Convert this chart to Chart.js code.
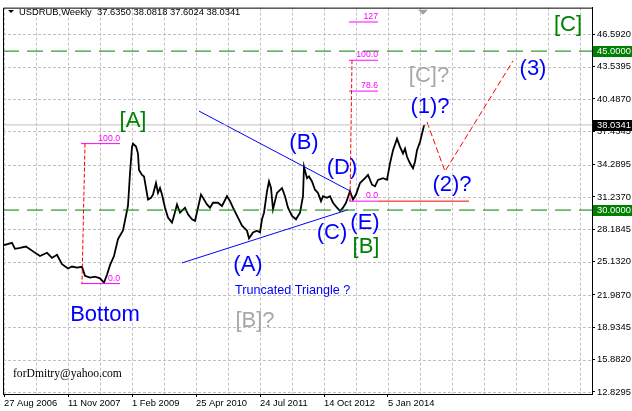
<!DOCTYPE html>
<html>
<head>
<meta charset="utf-8">
<script src="https://cdn.jsdelivr.net/npm/chart.js@4/dist/chart.umd.min.js"></script>
<style>
  html, body { margin: 0; padding: 0; background: #fff; }
  canvas { display: block; }
</style>
</head>
<body>
<canvas id="chart" width="632" height="411"></canvas>
<script>
// --- Data (bar index = weeks since 27 Aug 2006) ---
const barIdx = [0, 8, 11, 16, 22, 29, 36, 43, 48, 53, 58, 64, 68, 73, 78, 81, 86, 91, 96, 100,
  103, 106, 110, 114, 119,
  124, 126, 128, 129, 132, 134, 135, 138, 140, 142, 144, 147, 149, 152, 154, 156, 158, 161, 164, 168,
  170, 173, 176, 181, 184, 188, 191, 194, 197, 199, 203, 206, 209, 214, 218, 223, 226, 229, 234, 238,
  243, 245, 249, 253, 256, 258, 260, 263, 265, 267, 269,
  273, 278, 281, 284, 288, 292, 296, 299, 300, 303, 305, 308, 311, 314, 317, 319, 323, 326, 329, 333,
  336, 339, 342, 346, 349, 352, 356, 361, 364, 368, 371, 374, 379, 383, 386, 389, 393, 396, 399, 401,
  403, 406, 409, 411, 413, 416, 418, 420, 421];
const usdrub = [26.69, 26.90, 26.34, 26.43, 26.56, 26.10, 25.66, 25.97, 25.48, 25.78, 24.89, 24.48, 24.67, 24.57, 24.64, 23.80, 23.62, 23.71, 23.55, 23.15,
  23.89, 24.80, 25.66, 27.27, 28.08,
  30.41, 33.47, 35.96, 36.27, 35.99, 35.33, 33.78, 33.32, 33.17, 32.08, 30.99, 31.15, 31.46, 32.55, 31.62, 32.08, 31.46, 30.22, 29.29, 28.82,
  29.45, 30.53, 29.75, 30.22, 29.60, 29.13, 28.98, 30.22, 31.46, 31.15, 30.53, 30.22, 30.69, 30.69, 30.38, 31.31, 30.84, 30.22, 29.29, 28.52,
  28.05, 27.33, 27.89, 28.05, 27.89, 29.13, 29.75, 31.77, 32.70, 32.08, 30.06,
  31.62, 32.08, 31.31, 30.22, 29.45, 29.13, 29.75, 31.31, 34.10, 33.01, 33.17, 32.70, 31.92, 31.62, 30.84, 31.31, 31.15, 31.31, 30.69, 30.22,
  29.91, 30.22, 30.69, 31.77, 30.99, 31.46, 32.55, 33.01, 33.32, 32.39, 32.24, 32.85, 33.01, 32.85, 34.41, 35.64, 36.73, 35.96, 35.34, 35.80,
  35.03, 34.41, 33.94, 34.56, 35.64, 36.42, 37.20, 37.97, 38.03];

const yTicks = [12.8295, 15.882, 18.9345, 21.987, 25.132, 28.1845, 31.237, 34.2895, 37.4345, 40.487, 43.5395, 46.592];
const xTickBars = [0, 64, 128, 192, 256, 320, 384];
const xTickLabels = ['27 Aug 2006', '11 Nov 2007', '1 Feb 2009', '25 Apr 2010', '24 Jul 2011', '14 Oct 2012', '5 Jan 2014'];

const levelLines = [45, 30];
const bidPrice = 38.0341;
const header = 'USDRUB,Weekly  37.6350 38.0818 37.6024 38.0341';

// triangle boundaries
const triUpperBars = [195, 346];
const triUpperPrices = [39.34, 31.80];
const triLowerBars = [178, 344];
const triLowerPrices = [25.01, 30.03];

// fibonacci 1 (bottom -> [A])
const fib1Bars = [77, 116];
const fib1Prices = [36.27, 23.06];
const fib1Labels = ['100.0', '0.0'];
const fib1TrendBars = [81, 78];

// fibonacci 2 (E -> target)
const fib2Bars = [345, 374];
const fib2Prices = [47.75, 44.14, 41.23, 30.84];
const fib2Labels = ['127', '100.0', '78.6', '0.0'];
const fib2TrendBars = [348, 346];
const fib2TrendPrices = [44.14, 30.84];
const supportBars = [374, 465];

// projected path (1) -> (2) -> (3)
const projBars = [423, 441, 509];
const projPrices = [38.31, 33.66, 44.08];

// wave labels
const waveTexts = ['[A]', '[B]', '[C]', '[C]?', '[B]?', '(A)', '(B)', '(C)', '(D)', '(E)', '(1)?', '(2)?', '(3)', 'Bottom'];
const waveBars = [129, 362, 564, 425, 251, 244, 300, 328, 338, 361, 426, 448, 529, 101];
const wavePrices = [38.41, 26.50, 47.43, 42.69, 19.52, 24.82, 36.36, 27.80, 33.94, 28.82, 39.71, 32.36, 43.34, 20.08];

const noteText = 'Truncated Triangle ?';
const noteBar = 231, notePrice = 22.40;
const emailText = 'forDmitry@yahoo.com';
const emailBar = 9, emailPrice = 14.50;
const shiftBar = 419;

const FONT = '"Liberation Sans", Arial, sans-serif';
const GREEN = '#008000';

function pts(xs, ys) { return xs.map((x, i) => ({ x, y: Array.isArray(ys) ? ys[i] : ys })); }
function seg(data, color, width, dash) {
  return { data, borderColor: color, borderWidth: width, borderDash: dash || [], pointRadius: 0, fill: false, tension: 0 };
}

const datasets = [
  seg(pts([-1, 588], levelLines[0]), GREEN, 1, [16, 8]),
  seg(pts([-1, 588], levelLines[1]), GREEN, 1, [16, 8]),
  seg(pts([-1, 588], bidPrice), '#c0c0c0', 1),
  seg(pts(triUpperBars, triUpperPrices), '#0000ff', 1),
  seg(pts(triLowerBars, triLowerPrices), '#0000ff', 1),
  seg(pts(fib1TrendBars, fib1Prices), '#ff0000', 1, [4, 2]),
  seg(pts(fib2TrendBars, fib2TrendPrices), '#ff0000', 1, [4, 2]),
  seg(pts(supportBars, fib2Prices[3]), '#ff0000', 1),
  seg(pts(projBars, projPrices), '#ff0000', 1, [6, 3]),
];
fib1Prices.forEach(p => datasets.push(seg(pts(fib1Bars, p), '#ff00ff', 1)));
fib2Prices.forEach(p => datasets.push(seg(pts(fib2Bars, p), '#ff00ff', 1)));
datasets.push(seg(pts(barIdx, usdrub), '#000000', 1.8));

// --- Dashed grid from the scales' ticks ---
const dashedGrid = {
  id: 'dashedGrid',
  beforeDatasetsDraw(chart) {
    const { ctx, chartArea: a, scales: { x, y } } = chart;
    ctx.save();
    ctx.strokeStyle = '#c0c0c0';
    ctx.lineWidth = 1;
    ctx.setLineDash([3, 2]);
    ctx.beginPath();
    x.ticks.forEach(t => {
      const px = Math.round(x.getPixelForValue(t.value)) + 0.5;
      if (px <= a.left + 1) return;
      ctx.moveTo(px, a.top); ctx.lineTo(px, a.bottom);
    });
    y.ticks.forEach(t => {
      const py = Math.round(y.getPixelForValue(t.value)) + 0.5;
      ctx.moveTo(a.left, py); ctx.lineTo(a.right, py);
    });
    ctx.stroke();
    ctx.restore();
  }
};

// --- Overlay: frame, value boxes, labels ---
const overlay = {
  id: 'overlay',
  afterDraw(chart) {
    const { ctx, chartArea: a, scales: { x, y } } = chart;
    ctx.save();
    // frame (left + top)
    ctx.strokeStyle = '#000';
    ctx.lineWidth = 1;
    ctx.beginPath();
    ctx.moveTo(a.left + 0.5, a.bottom);
    ctx.lineTo(a.left + 0.5, a.top + 0.5);
    ctx.lineTo(a.right, a.top + 0.5);
    ctx.stroke();

    // header
    ctx.fillStyle = '#000';
    ctx.beginPath();
    ctx.moveTo(8, 10); ctx.lineTo(14, 10); ctx.lineTo(11, 13); ctx.closePath(); ctx.fill();
    ctx.font = '9.4px ' + FONT;
    ctx.textAlign = 'left';
    ctx.textBaseline = 'middle';
    ctx.fillText(header, 19, 12);

    // chart shift marker
    const sx = x.getPixelForValue(shiftBar);
    ctx.fillStyle = '#a0a0a0';
    ctx.beginPath();
    ctx.moveTo(sx - 5, a.top + 2); ctx.lineTo(sx + 5, a.top + 2); ctx.lineTo(sx, a.top + 7); ctx.closePath(); ctx.fill();

    // value boxes on price axis
    const box = (v, bg) => {
      const py = Math.round(y.getPixelForValue(v));
      ctx.fillStyle = bg;
      ctx.fillRect(a.right + 1, py - 5, 40, 11);
      ctx.fillStyle = '#fff';
      ctx.font = '9.4px ' + FONT;
      ctx.textAlign = 'left';
      ctx.textBaseline = 'middle';
      ctx.fillText(v.toFixed(4), a.right + 5, py + 0.5);
    };
    box(levelLines[0], GREEN);
    box(levelLines[1], GREEN);
    box(bidPrice, '#000');

    // fibo level labels
    ctx.fillStyle = '#ff00ff';
    ctx.font = '8.7px ' + FONT;
    ctx.textAlign = 'right';
    ctx.textBaseline = 'bottom';
    fib1Prices.forEach((p, i) => ctx.fillText(fib1Labels[i], x.getPixelForValue(fib1Bars[1]), y.getPixelForValue(p) - 1));
    fib2Prices.forEach((p, i) => ctx.fillText(fib2Labels[i], x.getPixelForValue(fib2Bars[1]), y.getPixelForValue(p) - 1));

    // wave labels
    ctx.font = '22px ' + FONT;
    ctx.textAlign = 'center';
    ctx.textBaseline = 'middle';
    waveTexts.forEach((t, i) => {
      if (/^\[.\]\?$/.test(t)) ctx.fillStyle = '#a8a8a8';
      else if (/^\[.\]$/.test(t)) ctx.fillStyle = GREEN;
      else ctx.fillStyle = '#0000ff';
      ctx.fillText(t, x.getPixelForValue(waveBars[i]), y.getPixelForValue(wavePrices[i]));
    });

    ctx.textAlign = 'left';
    ctx.fillStyle = '#0000ff';
    ctx.font = '12.6px ' + FONT;
    ctx.fillText(noteText, x.getPixelForValue(noteBar), y.getPixelForValue(notePrice));

    ctx.fillStyle = '#000';
    ctx.font = '11.6px "Liberation Serif", "Times New Roman", serif';
    ctx.fillText(emailText, x.getPixelForValue(emailBar), y.getPixelForValue(emailPrice));
    ctx.restore();
  }
};

new Chart(document.getElementById('chart'), {
  type: 'line',
  data: { datasets },
  options: {
    responsive: false,
    animation: false,
    devicePixelRatio: 1,
    layout: { padding: { left: 3, top: 2, right: 0, bottom: 0 } },
    plugins: { legend: { display: false }, tooltip: { enabled: false } },
    scales: {
      x: {
        type: 'linear',
        min: -1,
        max: 588,
        afterFit: s => { s.height = 17; },
        afterBuildTicks: s => {
          const t = [];
          for (let v = 0; v <= 576; v += 32) t.push({ value: v });
          s.ticks = t;
        },
        ticks: {
          autoSkip: false,
          maxRotation: 0,
          align: 'start',
          padding: 1,
          color: '#000',
          font: { family: FONT, size: 9.4 },
          callback: v => {
            const i = xTickBars.indexOf(v);
            return i >= 0 ? xTickLabels[i] : '';
          }
        },
        grid: {
          drawOnChartArea: false,
          tickLength: 3,
          color: c => (c.tick && xTickBars.includes(c.tick.value)) ? '#000' : 'rgba(0,0,0,0)'
        },
        border: { color: '#000', width: 1 }
      },
      y: {
        type: 'linear',
        position: 'right',
        min: 12.639,
        max: 49.104,
        afterFit: s => { s.width = 40; },
        afterBuildTicks: s => { s.ticks = yTicks.map(v => ({ value: v })); },
        ticks: {
          padding: 2,
          color: '#000',
          font: { family: FONT, size: 9.4 },
          callback: v => v.toFixed(4)
        },
        grid: { drawOnChartArea: false, tickLength: 3, color: '#000' },
        border: { color: '#000', width: 1 }
      }
    }
  },
  plugins: [dashedGrid, overlay]
});
</script>
</body>
</html>
